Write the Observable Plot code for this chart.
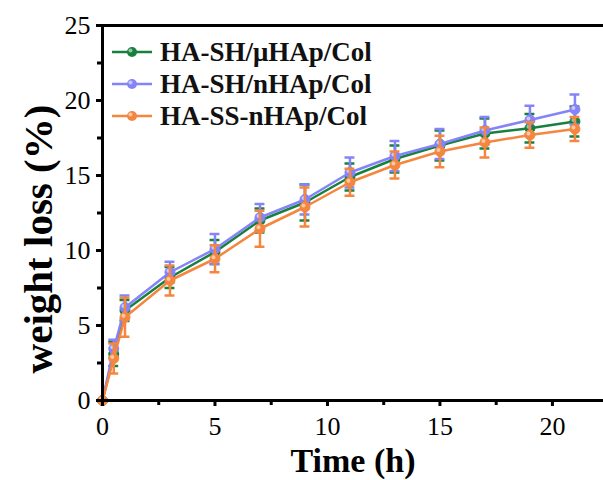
<!DOCTYPE html>
<html>
<head>
<meta charset="utf-8">
<script src="https://cdn.jsdelivr.net/npm/d3@7"></script>
<script src="https://cdn.jsdelivr.net/npm/@observablehq/plot@0.6"></script>
<style>
  html, body { margin: 0; padding: 0; background: #fff; }
  #wrap { position: relative; width: 603px; height: 480px; font-family: "Liberation Serif", "Times New Roman", serif; }
  #legend { position: absolute; left: 110px; top: 36px; }
  .row { display: flex; align-items: center; height: 32px; font-weight: bold; font-size: 27px; color: #111; }
  .row svg { margin-right: 6px; }
</style>
</head>
<body>
<div id="wrap"><div id="legend"></div></div>
<script>
// ---- data ----
const times = [0, 0.5, 1, 3, 5, 7, 9, 11, 13, 15, 17, 19, 21];
const seriesNames = ["HA-SH/μHAp/Col", "HA-SH/nHAp/Col", "HA-SS-nHAp/Col"];
const seriesColors = ["#17803d", "#8484f8", "#f5863f"];
const greenValues  = [0, 3.1, 6.0, 8.2, 9.9, 12.0, 13.2, 14.9, 16.1, 17.0, 17.8, 18.15, 18.6];
const greenErrors  = [0, 0.8, 0.7, 0.7, 0.8, 0.8, 1.2, 0.9, 0.9, 1.0, 1.0, 0.95, 1.0];
const purpleValues = [0, 3.45, 6.2, 8.55, 10.1, 12.2, 13.4, 15.2, 16.3, 17.1, 18.0, 18.7, 19.4];
const purpleErrors = [0, 0.6, 0.8, 0.7, 1.0, 0.9, 1.0, 1.0, 1.0, 1.0, 0.9, 0.95, 1.0];
const orangeValues = [0, 2.8, 5.55, 8.0, 9.45, 11.45, 12.9, 14.55, 15.7, 16.6, 17.2, 17.7, 18.1];
const orangeErrors = [0, 1.0, 1.3, 1.0, 0.9, 1.2, 1.3, 0.9, 0.9, 1.05, 1.0, 0.85, 0.8];
const yMajorTicks = [0, 5, 10, 15, 20, 25];
const yMinorTicks = [2.5, 7.5, 12.5, 17.5, 22.5];
const xMajorTicks = [0, 5, 10, 15, 20];
const xMinorTicks = [2.5, 7.5, 12.5, 17.5];
const xLabel = "Time (h)";
const yLabel = "weight loss (%)";

const valueSets = [greenValues, purpleValues, orangeValues];
const errorSets = [greenErrors, purpleErrors, orangeErrors];

const capHalf = 0.22;
const marks = [];
valueSets.forEach((vals, i) => {
  const data = times.map((t, j) => ({x: t, y: vals[j], e: errorSets[i][j]}));
  const withErr = data.filter(d => d.e > 0);
  const c = seriesColors[i];
  marks.push(
    Plot.ruleX(withErr, {x: "x", y1: d => d.y - d.e, y2: d => d.y + d.e, stroke: c, strokeWidth: 2.5}),
    Plot.ruleY(withErr, {y: d => d.y + d.e, x1: d => d.x - capHalf, x2: d => d.x + capHalf, stroke: c, strokeWidth: 2.5}),
    Plot.ruleY(withErr, {y: d => d.y - d.e, x1: d => d.x - capHalf, x2: d => d.x + capHalf, stroke: c, strokeWidth: 2.5}),
    Plot.line(data, {x: "x", y: "y", stroke: c, strokeWidth: 2.5}),
    Plot.dot(data, {x: "x", y: "y", r: 5, fill: c, stroke: c, strokeWidth: 1}),
    Plot.dot(data, {x: "x", y: "y", r: 2, dx: -1.5, dy: -1.5, fill: "white", fillOpacity: 0.55})
  );
});

const chart = Plot.plot({
  width: 603,
  height: 480,
  marginLeft: 102,
  marginRight: 0,
  marginTop: 25,
  marginBottom: 80,
  style: {fontFamily: "Liberation Serif, Times New Roman, serif", background: "white", color: "black"},
  x: {domain: [0, 22.27]},
  y: {domain: [0, 25]},
  marks: [
    ...marks,
    Plot.ruleY([25], {stroke: "black", strokeWidth: 3}),
    Plot.ruleY([0], {stroke: "black", strokeWidth: 3}),
    Plot.ruleX([0], {stroke: "black", strokeWidth: 3}),
    Plot.axisY({ticks: yMajorTicks, tickSize: 6, tickPadding: 6, fontSize: 26, strokeWidth: 3, label: null}),
    Plot.axisY({ticks: yMinorTicks, tickSize: 5, tickFormat: () => "", strokeWidth: 3, label: null}),
    Plot.axisX({ticks: xMajorTicks, tickSize: 6, tickPadding: 10, fontSize: 26, strokeWidth: 3, label: null}),
    Plot.axisX({ticks: xMinorTicks, tickSize: 5, tickFormat: () => "", strokeWidth: 3, label: null}),
    Plot.text([yLabel], {frameAnchor: "left", textAnchor: "middle", lineAnchor: "middle", rotate: -90, dx: -64, dy: 26, fontSize: 41, fontWeight: "bold"}),
    Plot.text([xLabel], {frameAnchor: "bottom", textAnchor: "middle", lineAnchor: "middle", dy: 61, fontSize: 34, fontWeight: "bold"})
  ]
});
document.getElementById("wrap").prepend(chart);

// legend
const legend = document.getElementById("legend");
seriesNames.forEach((name, i) => {
  const row = document.createElement("div");
  row.className = "row";
  const c = seriesColors[i];
  row.innerHTML = `<svg width="44" height="16"><line x1="2" x2="42" y1="8" y2="8" stroke="${c}" stroke-width="2.5"/><circle cx="22" cy="8" r="5" fill="${c}"/><circle cx="20.5" cy="6.5" r="2" fill="white" fill-opacity="0.55"/></svg><span>${name}</span>`;
  legend.appendChild(row);
});
</script>
</body>
</html>
